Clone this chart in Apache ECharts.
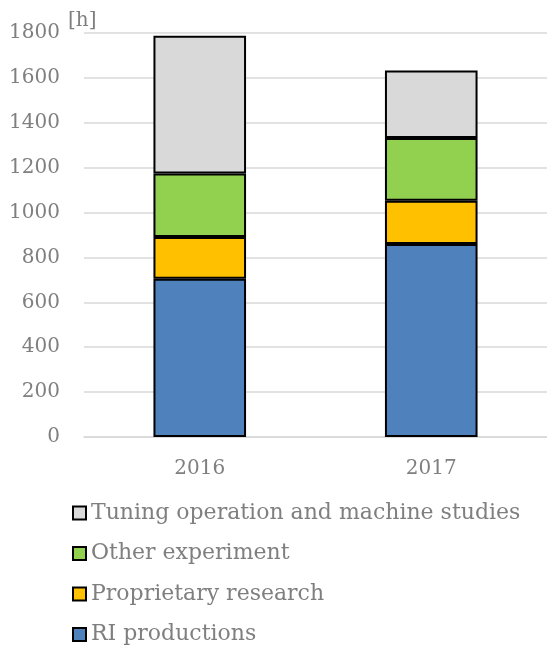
<!DOCTYPE html>
<html><head><meta charset="utf-8">
<script src="https://cdn.jsdelivr.net/npm/echarts@6/dist/echarts.min.js"></script>
<style>html,body{margin:0;padding:0;background:#fff}#c{width:547px;height:645px}</style>
</head><body><div id="c"></div>
<script>
const categories = ['2016', '2017'];
const riProductions = [705, 860];
const proprietaryResearch = [186, 193];
const otherExperiment = [283, 279];
const tuningOperation = [614, 301];
const yTicks = [0, 200, 400, 600, 800, 1000, 1200, 1400, 1600, 1800];

const FONT = 'DejaVu Serif';
const GRAY = '#7f7f7f';
function mk(name, data, color) {
  return { name, type: 'bar', stack: 'total', data, barWidth: '40%',
    itemStyle: { color, borderColor: '#000', borderWidth: 2 } };
}
const chart = echarts.init(document.getElementById('c'));
chart.setOption({
  animation: false,
  grid: { left: 84, right: 0, top: 33, bottom: 208, containLabel: false },
  xAxis: { type: 'category', data: categories,
    axisLine: { lineStyle: { color: '#d9d9d9', width: 1.5 } }, axisTick: { show: false },
    axisLabel: { color: GRAY, fontFamily: FONT, fontSize: 20, margin: 22 } },
  yAxis: { type: 'value', min: yTicks[0], max: yTicks[yTicks.length - 1], interval: 200,
    name: '[h]', nameLocation: 'end', nameGap: 2,
    nameTextStyle: { color: GRAY, fontFamily: FONT, fontSize: 20, align: 'left', padding: [0, 0, 0, -16] },
    axisLine: { show: false }, axisTick: { show: false },
    splitLine: { lineStyle: { color: '#d9d9d9', width: 1.5 } },
    axisLabel: { color: GRAY, fontFamily: FONT, fontSize: 20, margin: 24, formatter: v => String(v) } },
  legend: { orient: 'vertical', left: 72, top: 502, height: 400, padding: 0, itemWidth: 13, itemHeight: 13, itemGap: 18.5, icon: 'rect',
    textStyle: { color: GRAY, fontFamily: FONT, fontSize: 22 },
    data: ['Tuning operation and machine studies', 'Other experiment', 'Proprietary research', 'RI productions'] },
  series: [
    mk('RI productions', riProductions, '#4f81bd'),
    mk('Proprietary research', proprietaryResearch, '#ffc000'),
    mk('Other experiment', otherExperiment, '#92d050'),
    mk('Tuning operation and machine studies', tuningOperation, '#d9d9d9')
  ]
});
</script></body></html>
